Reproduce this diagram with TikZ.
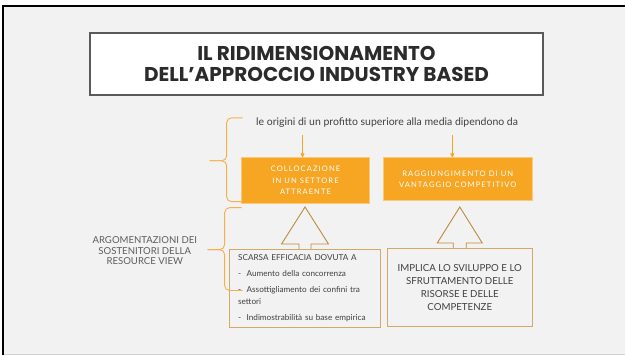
\documentclass[tikz,border=0pt]{standalone}
\usepackage{fontspec}
\setmainfont{Lato}
\newfontfamily\titlefont{Poppins}
\newfontfamily\spacedfont[LetterSpace=14]{Lato}
\usetikzlibrary{arrows.meta}

\definecolor{slidebg}{HTML}{F2F2F2}
\definecolor{slideorange}{HTML}{F6A623}
\definecolor{braceorange}{HTML}{F5B04A}
\definecolor{tanline}{HTML}{D4A868}
\definecolor{arrowline}{HTML}{BE8A3C}
\definecolor{titleline}{HTML}{5A5A5A}
\definecolor{darktext}{HTML}{2B2B2B}
\definecolor{bodytext}{HTML}{404040}

\tikzset{
  titlebox/.style={draw=titleline, line width=1.3pt, fill=white, align=center, text=darktext,
    font=\titlefont\bfseries\fontsize{20}{21}\selectfont},
  orangebox/.style={draw=slideorange!60, line width=0.6pt, fill=slideorange, text=white, align=center,
    font=\spacedfont\fontsize{7.6}{11.5}\selectfont},
  tanbox/.style={draw=tanline, line width=1.3pt, fill=slidebg, text=bodytext},
  bracestyle/.style={draw=braceorange, line width=0.9pt, rounded corners=5pt},
  downarrow/.style={draw=slideorange, line width=0.9pt, -{Triangle[length=4pt,width=4pt]}},
  uparrow/.style={draw=arrowline, line width=0.9pt, fill=slidebg}
}

\begin{document}
\begin{tikzpicture}[x=1pt, y=-1pt]
  % slide background and frame
  \fill[white] (0,0) rectangle (626,356);
  \fill[slidebg] (3.5,6.5) rectangle (626,355);
  \draw[gray!35, line width=1pt] (3.5,355.5) -- (626,355.5);
  \draw[black, line width=2pt] (3.5,356) -- (3.5,6.5) -- (626,6.5);
  \useasboundingbox (0,0) rectangle (626,356);

  % title
  \node[titlebox, minimum width=454pt, minimum height=62pt] (title) at (317,64)
    {IL RIDIMENSIONAMENTO\\DELL’APPROCCIO INDUSTRY BASED};

  \node[anchor=west, text=bodytext, font=\fontsize{10.5}{12}\selectfont] (origini) at (253,123)
    {le origini di un profitto superiore alla media dipendono da};

  % orange boxes
  \node[orangebox, minimum width=128pt, minimum height=46pt] (collocazione) at (306,181)
    {COLLOCAZIONE\\IN UN SETTORE\\ATTRAENTE};
  \node[orangebox, minimum width=149pt, minimum height=43pt] (vantaggio) at (458.5,179.5)
    {RAGGIUNGIMENTO DI UN\\VANTAGGIO COMPETITIVO};

  \coordinate (a1) at (303,135);
  \coordinate (a2) at (453,135);
  \draw[downarrow] (a1) -- (a1 |- collocazione.north);
  \draw[downarrow] (a2) -- (a2 |- vantaggio.north);

  % side label
  \node[align=center, text=bodytext!85, font=\fontsize{9.6}{10.5}\selectfont] (argomentazioni) at (145,251)
    {ARGOMENTAZIONI DEI\\SOSTENITORI DELLA\\RESOURCE VIEW};

  % lower boxes
  \node[tanbox, minimum width=151pt, minimum height=78pt, text width=134pt, align=left,
    font=\fontsize{8.2}{12}\selectfont] (scarsa) at (305.5,289)
    {SCARSA EFFICACIA DOVUTA A\\[4pt]
     -\ \ Aumento della concorrenza\\[4pt]
     -\ \ Assottigliamento dei confini tra\\settori\\[4pt]
     -\ \ \mbox{Indimostrabilità su base empirica}};
  \node[tanbox, minimum width=145pt, minimum height=78pt, align=center,
    font=\fontsize{9.7}{12.8}\selectfont] (implica) at (460.5,288)
    {IMPLICA LO SVILUPPO E LO\\SFRUTTAMENTO DELLE\\RISORSE E DELLE\\COMPETENZE};

  % block arrows
  \draw[uparrow] ([xshift=-6pt]scarsa.north) -- ++(0,-5) -- ++(-17.5,0) -- ++(23.5,-37)
    -- ++(23.5,37) -- ++(-17.5,0) -- ++(0,5);
  \draw[uparrow] ([xshift=-6.5pt]implica.north) -- ++(0,-5) -- ++(-16,0) -- ++(22.5,-36)
    -- ++(22.5,36) -- ++(-16,0) -- ++(0,5);

  % braces
  \coordinate (brace1) at (210,161);
  \coordinate (brace2) at (208,250);
  \draw[bracestyle] (243,118) -- (227,118) -- (227,161) -- (brace1);
  \draw[bracestyle] (brace1) -- (227,161) -- (227,202) -- (243,202);
  \draw[bracestyle] (242,208) -- (225,208) -- (225,250) -- (brace2);
  \draw[bracestyle] (brace2) -- (225,250) -- (225,291) -- (243,291);
\end{tikzpicture}
\end{document}
